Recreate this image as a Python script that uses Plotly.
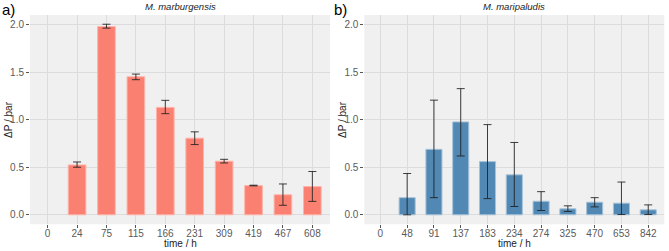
import plotly.graph_objects as go

# Panel a) M. marburgensis
cat_a = ["0", "24", "75", "115", "166", "231", "309", "419", "467", "608"]
val_a = [None, 0.524, 1.979, 1.451, 1.129, 0.805, 0.563, 0.307, 0.21, 0.297]
err_hi_a = [None, 0.555, 2.003, 1.479, 1.203, 0.872, 0.583, 0.311, 0.324, 0.455]
err_lo_a = [None, 0.500, 1.962, 1.420, 1.063, 0.738, 0.545, 0.304, 0.100, 0.141]

# Panel b) M. maripaludis
cat_b = ["0", "48", "91", "137", "183", "234", "274", "325", "470", "653", "842"]
val_b = [None, 0.18, 0.688, 0.976, 0.559, 0.42, 0.142, 0.0625, 0.132, 0.122, 0.052]
err_hi_b = [None, 0.434, 1.205, 1.326, 0.948, 0.76, 0.243, 0.094, 0.18, 0.344, 0.104]
err_lo_b = [None, 0.0, 0.18, 0.618, 0.17, 0.087, 0.045, 0.035, 0.083, 0.003, 0.003]

def plus(v, hi):
    return [None if a is None else h - a for a, h in zip(v, hi)]

def minus(v, lo):
    return [None if a is None else a - l for a, l in zip(v, lo)]

fig = go.Figure()
err_style = dict(type="data", symmetric=False, color="rgba(30,30,30,0.85)", thickness=1, width=4)

fig.add_trace(go.Bar(
    x=cat_a, y=val_a, width=0.6, xaxis="x", yaxis="y",
    marker=dict(color="#FA8072", line=dict(color="#FFB3AB", width=1)),
    error_y=dict(array=plus(val_a, err_hi_a), arrayminus=minus(val_a, err_lo_a), **err_style),
    showlegend=False,
))
fig.add_trace(go.Bar(
    x=cat_b, y=val_b, width=0.6, xaxis="x2", yaxis="y2",
    marker=dict(color="#5188B4", line=dict(color="#A6C2D8", width=1)),
    error_y=dict(array=plus(val_b, err_hi_b), arrayminus=minus(val_b, err_lo_b), **err_style),
    showlegend=False,
))

W, H = 669, 251
FONT = "Liberation Sans, Arial, sans-serif"
tickfont = dict(family=FONT, size=10, color="#5A5A5A")

def xax(domain, cats, anchor):
    return dict(
        domain=domain, anchor=anchor, type="category",
        categoryorder="array", categoryarray=cats,
        range=[-0.6, len(cats) - 0.4],
        showgrid=True, gridcolor="#DCDCDC", gridwidth=1,
        ticks="outside", ticklen=3, tickcolor="#555555",
        ticklabelstandoff=-3,
        tickfont=tickfont, showline=False, zeroline=False,
        automargin=False, fixedrange=True,
    )

def yax(anchor):
    return dict(
        domain=[1 - 224.3 / H, 1 - 15 / H], anchor=anchor,
        range=[-0.1, 2.1], tickvals=[0, 0.5, 1.0, 1.5, 2.0],
        ticktext=["0.0", "0.5", "1.0", "1.5", "2.0"],
        showgrid=True, gridcolor="#DCDCDC", gridwidth=1,
        ticks="outside", ticklen=3, tickcolor="#555555",
        tickfont=tickfont, showline=False, zeroline=False,
        automargin=False, fixedrange=True,
    )

def ann(text, x, y, size, color="#222222", xanchor="center", angle=0):
    return dict(text=text, x=x / W, y=1 - y / H, xref="paper", yref="paper",
                showarrow=False, font=dict(family=FONT, size=size, color=color),
                xanchor=xanchor, yanchor="middle", textangle=angle)

fig.update_layout(
    width=W, height=H,
    margin=dict(l=0, r=0, t=0, b=0, autoexpand=False),
    paper_bgcolor="white", plot_bgcolor="#F0F0F0",
    xaxis=xax([30 / W, 330 / W], cat_a, "y"),
    yaxis=yax("x"),
    xaxis2=xax([364.3 / W, 664.3 / W], cat_b, "y2"),
    yaxis2=yax("x2"),
    font=dict(family=FONT),
    annotations=[
        ann("<i>M. marburgensis</i>", 180.5, 7, 9.5),
        ann("<i>M. maripaludis</i>", 514.3, 7, 9.5),
        ann("a)", 0, 10, 15, "#000000", "left"),
        ann("b)", 332, 10, 15, "#000000", "left"),
        ann("time / h", 180, 243.5, 10),
        ann("time / h", 514.3, 243.5, 10),
        ann("ΔP / bar", 8, 120, 10, angle=-90),
        ann("ΔP / bar", 342, 120, 10, angle=-90),
    ],
)

fig.write_html("out.html", config={"displayModeBar": False},
               post_script="document.body.style.margin='0';document.body.style.overflow='hidden';")
